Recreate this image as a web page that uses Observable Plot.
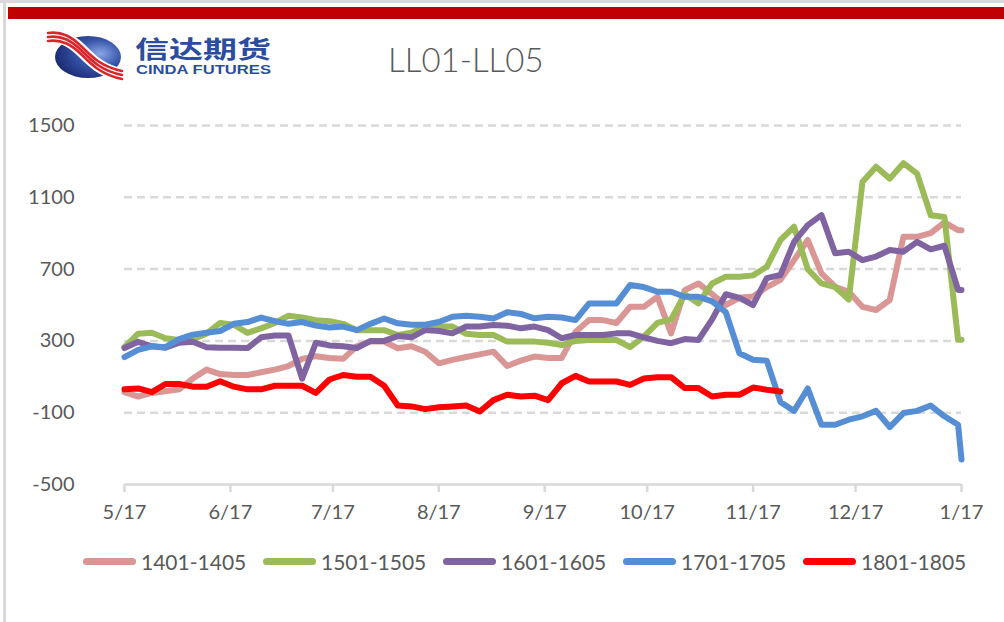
<!DOCTYPE html>
<html>
<head>
<meta charset="utf-8">
<script src="https://cdn.jsdelivr.net/npm/d3@7"></script>
<script src="https://cdn.jsdelivr.net/npm/@observablehq/plot@0.6"></script>
<style>
  html, body { margin: 0; padding: 0; background: #fff; }
  #wrap { position: relative; width: 1004px; height: 622px; overflow: hidden; font-family: Lato, "Open Sans", sans-serif; background: #fff; }
  #frameL { position: absolute; left: 3px; top: 0; width: 3px; height: 622px; background: #d9d9d9; }
  #frameT { position: absolute; left: 0; top: 0; width: 1004px; height: 3px; background: #d9d9d9; }
  #head { position: absolute; left: 0; top: 0; }
  #chart { position: absolute; left: 0; top: 0; }
  #legend { position: absolute; left: 83px; top: 548px; height: 26px; display: flex; }
  .item { width: 180px; display: flex; align-items: center; height: 26px; }
  .sw { width: 53px; height: 7px; border-radius: 4px; }
  .lab { margin-left: 5px; font-size: 21px; color: #595959; font-family: Lato, sans-serif; }
</style>
</head>
<body>
<div id="wrap">
  <div id="frameT"></div>
  <div id="frameL"></div>
  <svg id="head" width="1004" height="100">
    <defs>
      <radialGradient id="globe" cx="0.68" cy="0.42" r="0.75">
        <stop offset="0" stop-color="#8aa6e6"/>
        <stop offset="0.45" stop-color="#3553a8"/>
        <stop offset="1" stop-color="#18246a"/>
      </radialGradient>
    </defs>
    <rect x="8" y="7" width="996" height="12" fill="#c00000"/>
    <ellipse cx="88" cy="57" rx="33" ry="21" fill="url(#globe)"/>
    <g fill="none" stroke-linecap="round">
      <path d="M48,37 C62,35 72,41 82,51 C92,61 102,71 122,75" stroke="#ffffff" stroke-width="13"/>
      <path d="M48,33 C62,31 72,37 82,47 C92,57 102,67 122,71" stroke="#d9262c" stroke-width="2.6"/>
      <path d="M48,37 C62,35 72,41 82,51 C92,61 102,71 122,75" stroke="#d9262c" stroke-width="2.6"/>
      <path d="M48,41 C62,39 72,45 82,55 C92,65 102,75 122,79" stroke="#d9262c" stroke-width="2.6"/>
    </g>
    <text x="135" y="58" textLength="136" lengthAdjust="spacingAndGlyphs" font-family="Noto Sans CJK SC" font-weight="700" font-size="24" fill="#2b4c9f">信达期货</text>
    <text x="136" y="74" textLength="135" lengthAdjust="spacingAndGlyphs" font-family="Liberation Sans" font-weight="700" font-size="12" fill="#2b4c9f">CINDA FUTURES</text>
    <text x="388" y="72" font-family="Lato" font-weight="300" font-size="33" fill="#595959">LL01-LL05</text>
  </svg>
  <div id="chart"></div>
  <div id="legend"></div>
</div>
<script>
// ---- data ----
const dates = [
  "2017-05-17","2017-05-21","2017-05-25","2017-05-29","2017-06-02","2017-06-06","2017-06-10","2017-06-14",
  "2017-06-18","2017-06-22","2017-06-26","2017-06-30","2017-07-04","2017-07-08","2017-07-12","2017-07-16",
  "2017-07-20","2017-07-24","2017-07-28","2017-08-01","2017-08-05","2017-08-09","2017-08-13","2017-08-17",
  "2017-08-21","2017-08-25","2017-08-29","2017-09-02","2017-09-06","2017-09-10","2017-09-14","2017-09-18",
  "2017-09-22","2017-09-26","2017-09-30","2017-10-04","2017-10-08","2017-10-12","2017-10-16","2017-10-20",
  "2017-10-24","2017-10-28","2017-11-01","2017-11-05","2017-11-09","2017-11-13","2017-11-17","2017-11-21",
  "2017-11-25","2017-11-29","2017-12-03","2017-12-07","2017-12-11","2017-12-15","2017-12-19","2017-12-23",
  "2017-12-27","2017-12-31","2018-01-04","2018-01-08","2018-01-12","2018-01-16","2018-01-17"
];
const s1401 = [15,-10,10,20,30,90,140,115,110,110,125,140,160,200,215,205,200,270,296,296,259,270,240,175,194,210,225,240,160,190,213,205,205,350,416,416,400,490,490,546,342,583,620,560,500,540,547,600,640,750,862,676,602,574,490,472,528,880,880,900,960,917,917];
const s1501 = [265,340,345,315,305,310,340,400,390,345,370,400,440,430,415,410,395,360,360,360,333,345,380,380,380,340,333,333,296,296,296,290,277,300,305,305,305,265,324,400,420,560,509,620,657,657,665,713,862,936,700,620,600,530,1185,1270,1204,1290,1232,1000,990,306,306];
const s1601 = [260,295,270,262,290,295,265,262,262,260,320,330,330,90,290,275,270,260,300,300,327,320,360,355,342,380,380,389,385,370,380,360,315,333,333,333,342,342,320,300,287,310,305,420,560,540,500,650,667,852,945,1001,788,797,750,770,806,797,852,810,830,584,584];
const s1701 = [210,250,270,265,310,335,345,355,395,405,430,410,395,405,385,375,380,360,395,425,398,390,390,405,435,440,435,425,460,450,426,435,430,416,509,509,509,611,600,574,574,546,546,520,460,231,195,190,-40,-90,35,-167,-167,-139,-120,-90,-180,-102,-90,-60,-120,-167,-361];
const s1801 = [30,35,15,60,60,45,45,75,45,30,30,50,50,50,10,85,110,100,100,50,-60,-65,-80,-70,-65,-60,-93,-30,0,-10,-5,-30,64,105,74,74,74,55,90,98,98,37,37,-10,0,0,40,28,18,
  null,null,null,null,null,null,null,null,null,null,null,null,null,null];
const seriesNames = ["1401-1405","1501-1505","1601-1605","1701-1705","1801-1805"];
const seriesColors = ["#d99694","#9bbb59","#8064a2","#558ed5","#ff0000"];
const yTicks = [-500,-100,300,700,1100,1500];
const xTickDates = ["2017-05-17","2017-06-17","2017-07-17","2017-08-17","2017-09-17","2017-10-17","2017-11-17","2017-12-17","2018-01-17"];

// ---- build ----
const parse = d3.utcParse("%Y-%m-%d");
const seriesValues = [s1401, s1501, s1601, s1701, s1801];
const rows = seriesNames.flatMap((name, i) =>
  dates.map((d, j) => ({series: name, date: parse(d), value: seriesValues[i][j]})));
const xTicks = xTickDates.map(parse);

const chart = Plot.plot({
  width: 1004,
  height: 540,
  marginLeft: 124,
  marginRight: 43,
  marginTop: 125,
  marginBottom: 56,
  x: {type: "utc", domain: [parse("2017-05-17"), parse("2018-01-17")]},
  y: {domain: [-500, 1500]},
  style: {fontFamily: "Lato, sans-serif", fontSize: "20px", color: "#595959", background: "transparent", overflow: "visible"},
  marks: [
    Plot.ruleY(yTicks.slice(1), {stroke: "#d9d9d9", strokeWidth: 2.5, strokeDasharray: "8,5"}),
    Plot.ruleY([-500], {stroke: "#d9d9d9", strokeWidth: 2.5}),
    Plot.axisY(yTicks, {tickSize: 0, tickPadding: 50, tickFormat: d => String(d), fill: "#595959", fontSize: 20, label: null}),
    Plot.axisX(xTicks, {tickSize: 8, tickPadding: 12, tickFormat: d3.utcFormat("%-m/%d"),
      stroke: "#d9d9d9", strokeWidth: 2.5, fill: "#595959", fontSize: 20, label: null}),
    ...seriesNames.map((name, i) => Plot.line(rows.filter(r => r.series === name), {
      x: "date", y: "value", stroke: seriesColors[i], strokeWidth: 6,
      strokeLinejoin: "round", strokeLinecap: "round", curve: "linear"
    }))
  ]
});
document.getElementById("chart").appendChild(chart);

const legend = document.getElementById("legend");
seriesNames.forEach((name, i) => {
  const it = document.createElement("div");
  it.className = "item";
  it.innerHTML = `<span class="sw" style="background:${seriesColors[i]}"></span><span class="lab">${name}</span>`;
  legend.appendChild(it);
});
</script>
</body>
</html>
